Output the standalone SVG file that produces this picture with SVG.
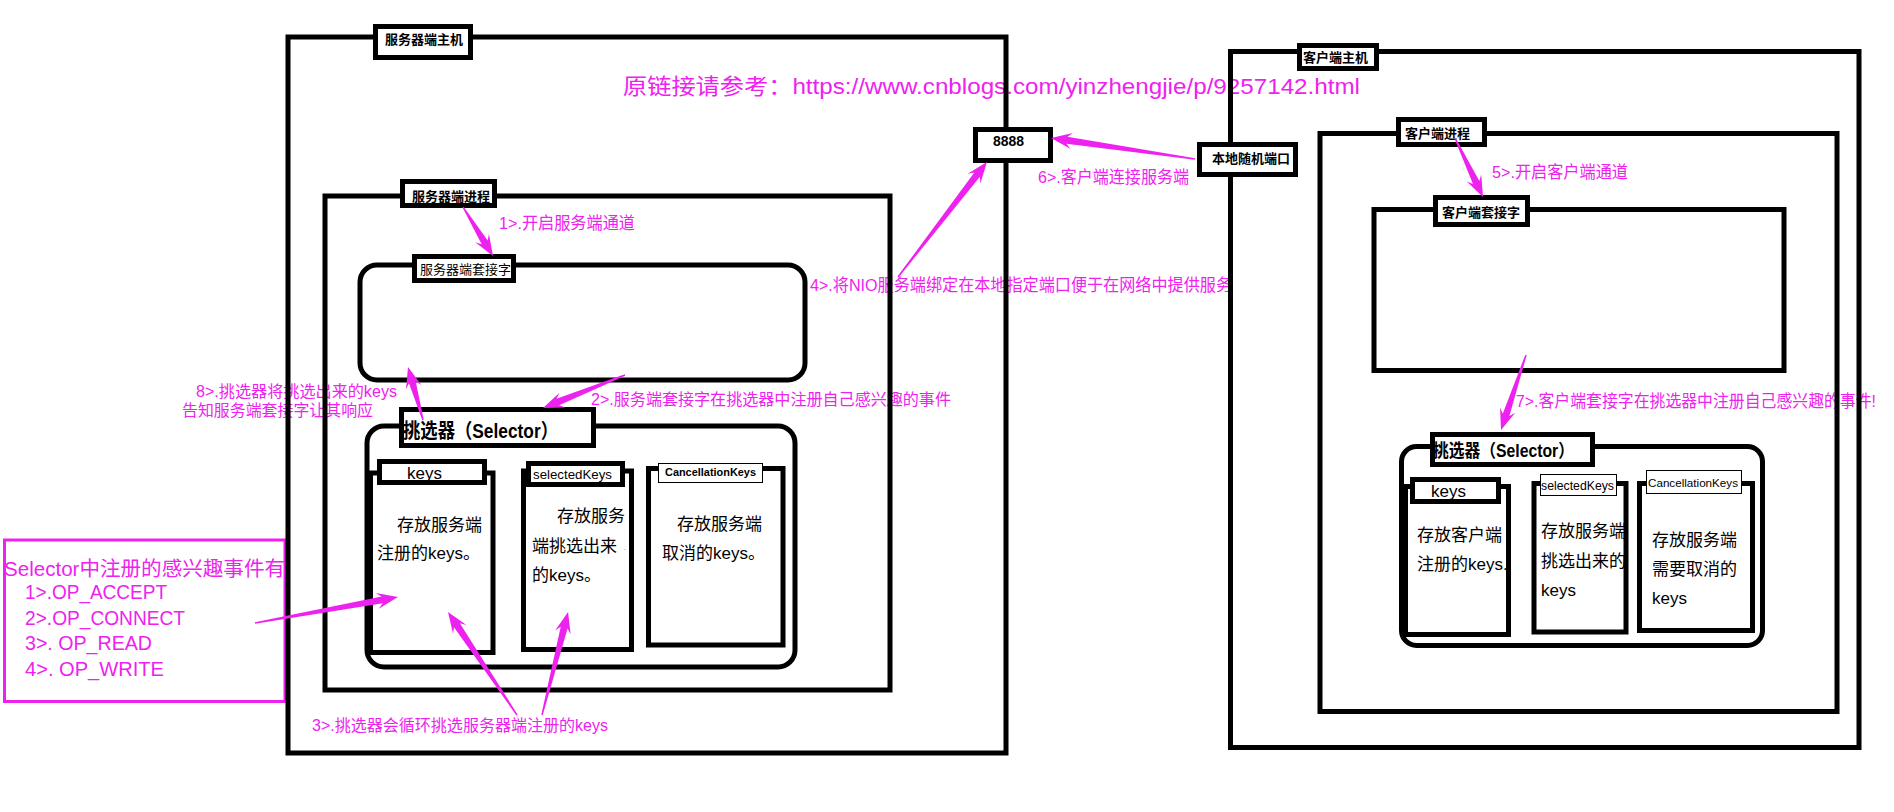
<svg xmlns="http://www.w3.org/2000/svg" width="1894" height="812" viewBox="0 0 1894 812">
<style>
.c{fill:none;stroke:#000;stroke-width:5}
.lb{fill:#fff;stroke:#000;stroke-width:5}
.tl{fill:#fff;stroke:#000;stroke-width:1}
.t{font-family:"Liberation Sans","Noto Sans CJK SC",sans-serif;fill:#000}
.b{font-weight:bold}
.m{font-family:"Liberation Sans","Noto Sans CJK SC",sans-serif;fill:#ee22ee}
.a{fill:#ee22ee}
</style>
<rect width="1894" height="812" fill="#fff"/>
<g id="labels">
<text class="m" x="623" y="94" font-size="22" textLength="737" lengthAdjust="spacingAndGlyphs">原链接请参考：https://www.cnblogs.com/yinzhengjie/p/9257142.html</text>
<text class="m" x="499" y="229" font-size="17" textLength="136" lengthAdjust="spacingAndGlyphs">1&gt;.开启服务端通道</text>
<text class="m" x="591" y="405" font-size="16" textLength="360" lengthAdjust="spacingAndGlyphs">2&gt;.服务端套接字在挑选器中注册自己感兴趣的事件</text>
<text class="m" x="196" y="397" font-size="16" textLength="201" lengthAdjust="spacingAndGlyphs">8&gt;.挑选器将挑选出来的keys</text>
<text class="m" x="182" y="416" font-size="16" textLength="191" lengthAdjust="spacingAndGlyphs">告知服务端套接字让其响应</text>
<text class="m" x="312" y="731" font-size="16" textLength="296" lengthAdjust="spacingAndGlyphs">3&gt;.挑选器会循环挑选服务器端注册的keys</text>
<text class="m" x="810" y="291" font-size="17" textLength="422" lengthAdjust="spacingAndGlyphs">4&gt;.将NIO服务端绑定在本地指定端口便于在网络中提供服务</text>
<text class="m" x="1492" y="178" font-size="17" textLength="136" lengthAdjust="spacingAndGlyphs">5&gt;.开启客户端通道</text>
<text class="m" x="1038" y="183" font-size="17" textLength="151" lengthAdjust="spacingAndGlyphs">6&gt;.客户端连接服务端</text>
<text class="m" x="1516" y="407" font-size="17" textLength="360" lengthAdjust="spacingAndGlyphs">7&gt;.客户端套接字在挑选器中注册自己感兴趣的事件!</text>
</g>
<g id="interest-box">
<rect x="4.5" y="540" width="280.5" height="161.5" fill="none" stroke="#ee22ee" stroke-width="3"/>
<text class="m" x="4" y="576" font-size="20" textLength="281" lengthAdjust="spacingAndGlyphs">Selector中注册的感兴趣事件有</text>
<text class="m" x="25" y="599" font-size="20" textLength="142" lengthAdjust="spacingAndGlyphs">1&gt;.OP_ACCEPT</text>
<text class="m" x="25" y="625" font-size="20" textLength="160" lengthAdjust="spacingAndGlyphs">2&gt;.OP_CONNECT</text>
<text class="m" x="25" y="650" font-size="20" textLength="127" lengthAdjust="spacingAndGlyphs">3&gt;. OP_READ</text>
<text class="m" x="25" y="676" font-size="20" textLength="139" lengthAdjust="spacingAndGlyphs">4&gt;. OP_WRITE</text>
</g>
<g id="server-host">
<rect class="c" x="288" y="37" width="718" height="716"/>
<rect class="lb" x="375.5" y="26.5" width="95" height="31"/>
<text class="t b" x="385" y="44" font-size="13">服务器端主机</text>
</g>
<g id="server-process">
<rect class="c" x="325" y="196" width="565" height="494"/>
<rect class="lb" x="402.5" y="181.5" width="92" height="24"/>
<text class="t b" x="412" y="201" font-size="13">服务器端进程</text>
</g>
<g id="server-socket">
<rect class="c" x="360" y="265" width="445" height="115" rx="17"/>
<rect class="lb" x="414.5" y="256.5" width="99" height="24"/>
<text class="t" x="420" y="274" font-size="13">服务器端套接字</text>
</g>
<g id="server-selector">
<rect class="c" x="367" y="426" width="428" height="241" rx="17"/>
<rect class="lb" x="401.5" y="409.5" width="192" height="36"/>
<text class="t b" x="403" y="438" font-size="20" textLength="155" lengthAdjust="spacingAndGlyphs">挑选器（Selector）</text>
</g>
<g id="server-keys">
<text class="t" x="397" y="531" font-size="17">存放服务端</text>
<text class="t" x="377" y="559" font-size="17">注册的keys。</text>
<rect class="c" x="370.5" y="473" width="122.5" height="179.5"/>
<rect class="lb" x="379.5" y="461.5" width="105" height="21"/>
<text class="t" x="407" y="479" font-size="17">keys</text>
</g>
<g id="server-selectedKeys">
<text class="t" x="557" y="522" font-size="17">存放服务</text>
<text class="t" x="532" y="552" font-size="17">端挑选出来</text>
<text class="t" x="624" y="550" font-size="6">.</text>
<text class="t" x="532" y="581" font-size="17">的keys。</text>
<rect class="c" x="523.5" y="471" width="108" height="178.5"/>
<rect class="lb" x="528.5" y="463.5" width="94" height="21"/>
<text class="t" x="533" y="479" font-size="13.5" textLength="79" lengthAdjust="spacingAndGlyphs">selectedKeys</text>
</g>
<g id="server-cancellationKeys">
<text class="t" x="677" y="530" font-size="17">存放服务端</text>
<text class="t" x="662" y="559" font-size="17">取消的keys。</text>
<rect class="c" x="648.5" y="468.5" width="134.5" height="176.5"/>
<rect class="tl" x="658.5" y="463.5" width="104" height="19"/>
<text class="t b" x="665" y="476" font-size="11" textLength="91" lengthAdjust="spacingAndGlyphs">CancellationKeys</text>
</g>
<g id="port-8888">
<rect class="lb" x="975.5" y="129.5" width="75" height="31"/>
<text class="t b" x="993" y="146" font-size="14">8888</text>
</g>
<g id="client-host">
<rect class="c" x="1230.5" y="51.5" width="628.5" height="696"/>
<rect class="lb" x="1299.5" y="45.5" width="77" height="23"/>
<text class="t b" x="1303" y="62" font-size="13">客户端主机</text>
</g>
<g id="local-random-port">
<rect class="lb" x="1199.5" y="144.5" width="96" height="30"/>
<text class="t b" x="1212" y="163" font-size="13">本地随机端口</text>
</g>
<g id="client-process">
<rect class="c" x="1320" y="133.5" width="517" height="578"/>
<rect class="lb" x="1398.5" y="119.5" width="86" height="25"/>
<text class="t b" x="1405" y="138" font-size="13">客户端进程</text>
</g>
<g id="client-socket">
<rect class="c" x="1374" y="209.5" width="410" height="161"/>
<rect class="lb" x="1435.5" y="197.5" width="92" height="27"/>
<text class="t b" x="1442" y="217" font-size="13">客户端套接字</text>
</g>
<g id="client-selector">
<rect class="c" x="1401.5" y="446.5" width="361" height="199" rx="15"/>
<rect class="lb" x="1432.5" y="434.5" width="160" height="30"/>
<text class="t b" x="1433" y="457" font-size="18" textLength="141" lengthAdjust="spacingAndGlyphs">挑选器（Selector）</text>
</g>
<g id="client-keys">
<text class="t" x="1417" y="541" font-size="17">存放客户端</text>
<text class="t" x="1417" y="570" font-size="17">注册的keys.</text>
<rect class="c" x="1405.5" y="486.5" width="103" height="148"/>
<rect class="lb" x="1412.5" y="479.5" width="86" height="22"/>
<text class="t" x="1431" y="497" font-size="17">keys</text>
</g>
<g id="client-selectedKeys">
<text class="t" x="1541" y="537" font-size="17">存放服务端</text>
<text class="t" x="1541" y="567" font-size="17">挑选出来的</text>
<text class="t" x="1541" y="596" font-size="17">keys</text>
<rect class="c" x="1534" y="483.5" width="92" height="148.5"/>
<rect class="tl" x="1540.5" y="474.5" width="76" height="21"/>
<text class="t" x="1541" y="490" font-size="12.3" textLength="73" lengthAdjust="spacingAndGlyphs">selectedKeys</text>
</g>
<g id="client-cancellationKeys">
<text class="t" x="1652" y="546" font-size="17">存放服务端</text>
<text class="t" x="1652" y="575" font-size="17">需要取消的</text>
<text class="t" x="1652" y="604" font-size="17">keys</text>
<rect class="c" x="1639.5" y="483.5" width="113" height="147"/>
<rect class="tl" x="1646.5" y="470.5" width="95" height="23"/>
<text class="t" x="1648" y="487" font-size="11.5" textLength="90" lengthAdjust="spacingAndGlyphs">CancellationKeys</text>
</g>
<g id="connectors">
<path class="a" transform="translate(463,207) rotate(58.5)" d="M0,-0.7 L41.5,-3.5 L36.5,-8 L57.5,0 L36.5,8 L41.5,3.5 L0,0.7Z"/>
<path class="a" transform="translate(625,375) rotate(158.1)" d="M0,-0.7 L72.4,-3.5 L67.4,-8 L88.4,0 L67.4,8 L72.4,3.5 L0,0.7Z"/>
<path class="a" transform="translate(423,420) rotate(-105.8)" d="M0,-0.7 L39.1,-3.5 L34.1,-8 L55.1,0 L34.1,8 L39.1,3.5 L0,0.7Z"/>
<path class="a" transform="translate(517,715) rotate(-123.8)" d="M0,-0.7 L108,-3.5 L103,-8 L124,0 L103,8 L108,3.5 L0,0.7Z"/>
<path class="a" transform="translate(542,715) rotate(-75.8)" d="M0,-0.7 L90.2,-3.5 L85.2,-8 L106.2,0 L85.2,8 L90.2,3.5 L0,0.7Z"/>
<path class="a" transform="translate(255,623) rotate(-10.3)" d="M0,-0.7 L129.3,-3.5 L124.3,-8 L145.3,0 L124.3,8 L129.3,3.5 L0,0.7Z"/>
<path class="a" transform="translate(898,277) rotate(-52.3)" d="M0,-0.7 L129.4,-3.5 L124.4,-8 L145.4,0 L124.4,8 L129.4,3.5 L0,0.7Z"/>
<path class="a" transform="translate(1195,159) rotate(-171.7)" d="M0,-0.7 L129.5,-3.5 L124.5,-8 L145.5,0 L124.5,8 L129.5,3.5 L0,0.7Z"/>
<path class="a" transform="translate(1455,138) rotate(64.6)" d="M0,-0.7 L49.3,-3.5 L44.3,-8 L65.3,0 L44.3,8 L49.3,3.5 L0,0.7Z"/>
<path class="a" transform="translate(1526,355) rotate(108.4)" d="M0,-0.7 L63.1,-3.5 L58.1,-8 L79.1,0 L58.1,8 L63.1,3.5 L0,0.7Z"/>
</g>
</svg>
